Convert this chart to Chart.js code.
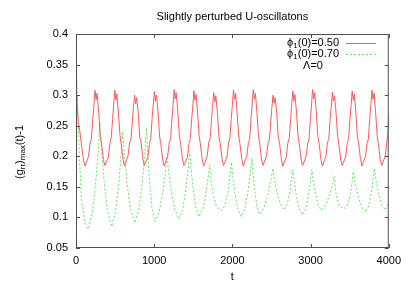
<!DOCTYPE html>
<html lang="en">
<head>
    <meta charset="UTF-8">
    <title>Slightly perturbed U-oscillatons</title>
    <script src="https://cdn.jsdelivr.net/npm/chart.js"></script>
    <style>
        body { margin: 0; background: #fff; }
        canvas { display: block; }
    </style>
</head>
<body>
    <canvas id="myChart" width="407" height="285"></canvas>
    <script>
        // phi1(0)=0.50 (red, solid)
        const redT = [0, 12, 29, 50, 73, 95,
            115, 160, 180, 197, 215, 227, 243, 257, 270, 290, 310, 325, 350,
            368, 413, 433, 450, 468, 480, 496, 510, 523, 543, 563, 578, 603,
            621, 666, 686, 703, 721, 733, 749, 763, 776, 796, 816, 831, 856,
            874, 919, 939, 956, 974, 986, 1002, 1016, 1029, 1049, 1069, 1084, 1109,
            1127, 1172, 1192, 1209, 1227, 1239, 1255, 1269, 1282, 1302, 1322, 1337, 1362,
            1380, 1425, 1445, 1462, 1480, 1492, 1508, 1522, 1535, 1555, 1575, 1590, 1615,
            1633, 1678, 1698, 1715, 1733, 1745, 1761, 1775, 1788, 1808, 1828, 1843, 1868,
            1886, 1931, 1951, 1968, 1986, 1998, 2014, 2028, 2041, 2061, 2081, 2096, 2121,
            2139, 2184, 2204, 2221, 2239, 2251, 2267, 2281, 2294, 2314, 2334, 2349, 2374,
            2392, 2437, 2457, 2474, 2492, 2504, 2520, 2534, 2547, 2567, 2587, 2602, 2627,
            2645, 2690, 2710, 2727, 2745, 2757, 2773, 2787, 2800, 2820, 2840, 2855, 2880,
            2898, 2943, 2963, 2980, 2998, 3010, 3026, 3040, 3053, 3073, 3093, 3108, 3133,
            3151, 3196, 3216, 3233, 3251, 3263, 3279, 3293, 3306, 3326, 3346, 3361, 3386,
            3404, 3449, 3469, 3486, 3504, 3516, 3532, 3546, 3559, 3579, 3599, 3614, 3639,
            3657, 3702, 3722, 3739, 3757, 3769, 3785, 3799, 3812, 3832, 3852, 3867, 3892,
            3910, 3955, 3975, 3990, 4000];
        const redV = [0.298, 0.290, 0.257, 0.240, 0.216, 0.194,
            0.184, 0.200, 0.222, 0.228, 0.262, 0.280, 0.308, 0.293, 0.303, 0.272, 0.232, 0.222, 0.195,
            0.185, 0.198, 0.220, 0.230, 0.260, 0.282, 0.308, 0.292, 0.302, 0.270, 0.234, 0.220, 0.194,
            0.184, 0.201, 0.223, 0.227, 0.258, 0.278, 0.300, 0.286, 0.296, 0.271, 0.231, 0.223, 0.196,
            0.185, 0.199, 0.221, 0.229, 0.263, 0.281, 0.306, 0.290, 0.300, 0.273, 0.233, 0.221, 0.194,
            0.184, 0.200, 0.222, 0.228, 0.261, 0.280, 0.309, 0.294, 0.304, 0.272, 0.232, 0.222, 0.195,
            0.185, 0.198, 0.221, 0.229, 0.262, 0.279, 0.307, 0.292, 0.301, 0.271, 0.233, 0.221, 0.194,
            0.184, 0.200, 0.223, 0.228, 0.260, 0.280, 0.304, 0.289, 0.299, 0.272, 0.232, 0.222, 0.196,
            0.185, 0.199, 0.222, 0.229, 0.262, 0.281, 0.308, 0.293, 0.303, 0.270, 0.233, 0.221, 0.195,
            0.184, 0.200, 0.221, 0.228, 0.263, 0.280, 0.309, 0.294, 0.303, 0.272, 0.232, 0.222, 0.194,
            0.185, 0.201, 0.222, 0.227, 0.259, 0.278, 0.300, 0.287, 0.296, 0.271, 0.231, 0.223, 0.195,
            0.184, 0.199, 0.222, 0.229, 0.262, 0.281, 0.307, 0.291, 0.301, 0.272, 0.233, 0.221, 0.194,
            0.185, 0.200, 0.221, 0.228, 0.261, 0.280, 0.309, 0.294, 0.304, 0.273, 0.232, 0.222, 0.195,
            0.184, 0.200, 0.223, 0.228, 0.262, 0.279, 0.305, 0.290, 0.299, 0.271, 0.233, 0.221, 0.194,
            0.185, 0.199, 0.222, 0.229, 0.261, 0.280, 0.307, 0.292, 0.302, 0.272, 0.232, 0.222, 0.195,
            0.184, 0.200, 0.221, 0.228, 0.262, 0.281, 0.308, 0.293, 0.303, 0.271, 0.233, 0.221, 0.194,
            0.185, 0.200, 0.222, 0.240, 0.268];

        // phi1(0)=0.70 (green, dashed)
        const greenT = [0, 10, 29, 51, 73, 115, 157,
            209, 254, 284, 306, 328, 358, 403, 455,
            504, 547, 575, 596, 620, 651, 698, 753,
            805, 850, 880, 902, 918, 939, 971, 1008,
            1063, 1110, 1141, 1165, 1188, 1219, 1264, 1318,
            1366, 1406, 1434, 1454, 1472, 1496, 1531, 1573,
            1621, 1661, 1689, 1709, 1730, 1751, 1795, 1830, 1858, 1900, 1943, 1966, 1986,
            2005, 2030, 2069, 2113,
            2161, 2201, 2229, 2249, 2264, 2283, 2313, 2347,
            2407, 2458, 2492, 2517, 2539, 2569, 2614, 2666,
            2703, 2735, 2756, 2772, 2791, 2816, 2855, 2899,
            2940, 2975, 2998, 3016, 3034, 3057, 3093, 3134,
            3194, 3245, 3279, 3304, 3325, 3367, 3400, 3453,
            3485, 3510, 3530, 3545, 3569, 3601, 3649, 3705,
            3743, 3776, 3798, 3814, 3835, 3863, 3906, 3955, 4000];
        const greenV = [0.365, 0.330, 0.250, 0.178, 0.128, 0.091, 0.081,
            0.107, 0.159, 0.210, 0.255, 0.211, 0.162, 0.111, 0.085,
            0.108, 0.155, 0.200, 0.240, 0.201, 0.158, 0.113, 0.091,
            0.114, 0.161, 0.206, 0.246, 0.206, 0.162, 0.116, 0.093,
            0.109, 0.141, 0.172, 0.200, 0.173, 0.143, 0.112, 0.097,
            0.114, 0.147, 0.179, 0.208, 0.180, 0.149, 0.117, 0.101,
            0.114, 0.139, 0.164, 0.186, 0.160, 0.140, 0.118, 0.113, 0.112, 0.118, 0.142, 0.165, 0.190,
            0.167, 0.141, 0.114, 0.101,
            0.115, 0.144, 0.172, 0.197, 0.173, 0.146, 0.119, 0.105,
            0.116, 0.139, 0.160, 0.180, 0.162, 0.143, 0.122, 0.112,
            0.122, 0.142, 0.161, 0.178, 0.159, 0.137, 0.115, 0.104,
            0.115, 0.137, 0.159, 0.178, 0.161, 0.142, 0.122, 0.112,
            0.120, 0.137, 0.153, 0.167, 0.140, 0.118, 0.116, 0.115,
            0.125, 0.140, 0.157, 0.175, 0.158, 0.138, 0.118, 0.108,
            0.119, 0.140, 0.161, 0.180, 0.162, 0.143, 0.122, 0.112, 0.125];

        const xTicks = [0, 1000, 2000, 3000, 4000];
        const yTicks = [0.05, 0.1, 0.15, 0.2, 0.25, 0.3, 0.35, 0.4];
        const seriesLabels = ['0.50', '0.70'];

        const RED = 'rgb(255, 90, 90)';
        const GREEN = 'rgb(100, 232, 100)';
        const FONT = '"Liberation Sans", Arial, sans-serif';

        const toPoints = (ts, vs) => ts.map((t, i) => ({ x: t, y: vs[i] }));

        // text with subscripts: parts = [[text, isSub], ...]
        function richWidth(ctx, parts) {
            let w = 0;
            parts.forEach(p => {
                ctx.font = (p[1] ? '8px ' : '11px ') + FONT;
                w += ctx.measureText(p[0]).width;
            });
            return w;
        }
        function drawRich(ctx, parts, x, y) {
            parts.forEach(p => {
                ctx.font = (p[1] ? '8px ' : '11px ') + FONT;
                ctx.fillText(p[0], x, p[1] ? y + 3 : y);
                x += ctx.measureText(p[0]).width;
            });
        }

        const decorations = {
            id: 'decorations',
            afterDatasetsDraw(chart) {
                const ctx = chart.ctx;
                const a = chart.chartArea;
                const xs = chart.scales.x, ys = chart.scales.y;
                ctx.save();

                // frame + inward ticks (mirrored)
                ctx.strokeStyle = '#505050';
                ctx.lineWidth = 1;
                ctx.strokeRect(a.left + 0.5, a.top + 0.5, a.right - a.left - 1, a.bottom - a.top - 1);
                ctx.beginPath();
                xTicks.forEach(v => {
                    const px = Math.round(xs.getPixelForValue(v)) + 0.5;
                    ctx.moveTo(px, a.bottom); ctx.lineTo(px, a.bottom - 4);
                    ctx.moveTo(px, a.top); ctx.lineTo(px, a.top + 4);
                });
                yTicks.forEach(v => {
                    const py = Math.round(ys.getPixelForValue(v)) + 0.5;
                    ctx.moveTo(a.left, py); ctx.lineTo(a.left + 4, py);
                    ctx.moveTo(a.right, py); ctx.lineTo(a.right - 4, py);
                });
                ctx.stroke();

                ctx.fillStyle = '#000';
                ctx.textBaseline = 'middle';

                // title
                ctx.font = '11px ' + FONT;
                ctx.textAlign = 'center';
                ctx.fillText('Slightly perturbed U-oscillatons', (a.left + a.right) / 2, 17);
                // x axis title
                ctx.fillText('t', (a.left + a.right) / 2, 277);

                // y axis title (rotated, with subscripts)
                ctx.textAlign = 'left';
                const yParts = [['(g', false], ['rr', true], [')', false], ['max', true], ['(t)-1', false]];
                ctx.save();
                ctx.translate(20, 152);
                ctx.rotate(-Math.PI / 2);
                drawRich(ctx, yParts, -richWidth(ctx, yParts) / 2, 0);
                ctx.restore();

                // legend
                const rows = [
                    { y: 43, color: RED, dash: [] },
                    { y: 54, color: GREEN, dash: [2, 2] }
                ];
                rows.forEach((r, i) => {
                    const parts = [['\u03d5', false], ['1', true], ['(0)=' + seriesLabels[i], false]];
                    ctx.fillStyle = '#000';
                    drawRich(ctx, parts, 339 - richWidth(ctx, parts), r.y);
                    ctx.strokeStyle = r.color;
                    ctx.setLineDash(r.dash);
                    ctx.beginPath();
                    ctx.moveTo(346, r.y + 0.5);
                    ctx.lineTo(376, r.y + 0.5);
                    ctx.stroke();
                });
                ctx.setLineDash([]);
                ctx.font = '11px ' + FONT;
                ctx.textAlign = 'center';
                ctx.fillText('\u039b=0', 313, 66);

                ctx.restore();
            }
        };

        const ctx = document.getElementById('myChart').getContext('2d');
        new Chart(ctx, {
            type: 'line',
            data: {
                datasets: [{
                    label: '\u03d51(0)=' + seriesLabels[0],
                    data: toPoints(redT, redV),
                    borderColor: RED,
                    borderWidth: 1,
                    pointRadius: 0,
                    tension: 0
                }, {
                    label: '\u03d51(0)=' + seriesLabels[1],
                    data: toPoints(greenT, greenV),
                    borderColor: GREEN,
                    borderWidth: 1,
                    borderDash: [2, 2],
                    pointRadius: 0,
                    tension: 0
                }]
            },
            options: {
                responsive: false,
                animation: false,
                devicePixelRatio: 1,
                layout: { padding: { top: 34, right: 17, left: 0, bottom: 0 } },
                plugins: {
                    legend: { display: false },
                    title: { display: false },
                    tooltip: { enabled: false }
                },
                scales: {
                    x: {
                        type: 'linear',
                        min: 0,
                        max: 4000,
                        afterFit: s => { s.height = 37; },
                        afterBuildTicks: s => { s.ticks = xTicks.map(v => ({ value: v })); },
                        grid: { display: false, drawTicks: false },
                        border: { display: false },
                        ticks: {
                            padding: 6,
                            color: '#000',
                            font: { family: FONT, size: 11 },
                            maxRotation: 0,
                            callback: v => String(v)
                        }
                    },
                    y: {
                        min: 0.05,
                        max: 0.4,
                        afterFit: s => { s.width = 76; },
                        afterBuildTicks: s => { s.ticks = yTicks.map(v => ({ value: v })); },
                        grid: { display: false, drawTicks: false },
                        border: { display: false },
                        ticks: {
                            padding: 8,
                            color: '#000',
                            font: { family: FONT, size: 11 },
                            callback: v => String(+v.toFixed(2))
                        }
                    }
                }
            },
            plugins: [decorations]
        });
    </script>
</body>
</html>
